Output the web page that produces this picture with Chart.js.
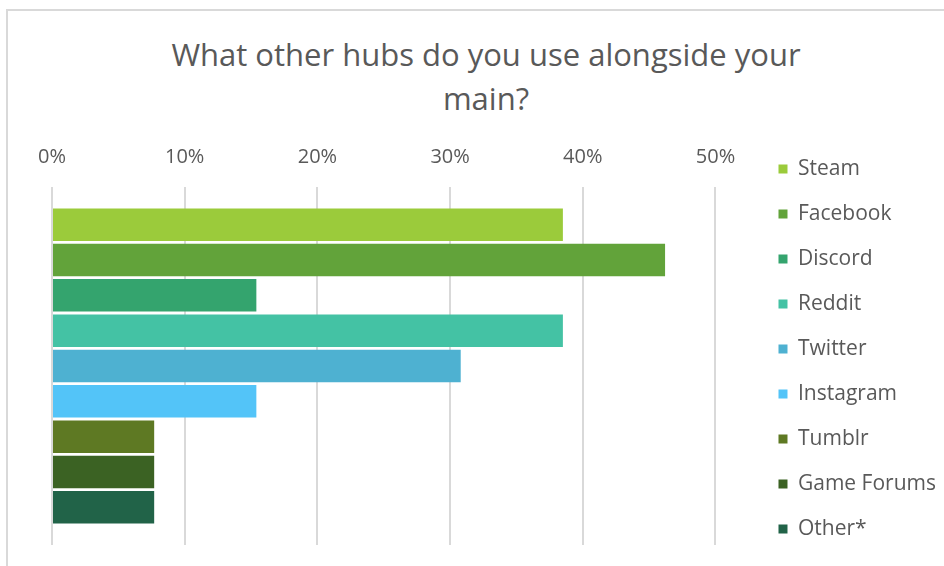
<!DOCTYPE html>
<html>
<head>
<meta charset="utf-8">
<script src="https://cdn.jsdelivr.net/npm/chart.js@4/dist/chart.umd.min.js"></script>
<style>
  html, body { margin: 0; padding: 0; background: #fff; overflow: hidden; }
  #wrap { position: relative; width: 944px; height: 566px; }
  #frame { position: absolute; left: 6px; top: 9px; width: 960px; height: 600px;
           border-left: 2px solid #d9d9d9; border-top: 2px solid #d9d9d9; }
  #title { position: absolute; left: 136px; top: 32px; width: 700px; text-align: center;
           font-family: 'Open Sans', sans-serif; font-size: 31px; line-height: 44px; color: #595959; }
  #myChart { position: absolute; left: 0; top: 132px; }
</style>
</head>
<body>
<div id="wrap">
  <div id="frame"></div>
  <div id="title">What other hubs do you use alongside your<br>main?</div>
  <canvas id="myChart" width="944" height="434"></canvas>
</div>
<script>
// hubs and the share of answers (%)
const hubs = ['Steam', 'Facebook', 'Discord', 'Reddit', 'Twitter', 'Instagram', 'Tumblr', 'Game Forums', 'Other*'];
const shares = [38.5, 46.2, 15.4, 38.5, 30.8, 15.4, 7.7, 7.7, 7.7];
const cores = ['#9bcb3b', '#62a33a', '#34a46e', '#44c2a4', '#4eb1d1', '#53c4f8', '#5e7923', '#3b6223', '#216348'];
const ticksX = [0, 10, 20, 30, 40, 50];

Chart.defaults.font.family = "'Open Sans', sans-serif";
Chart.defaults.color = '#595959';

const datasets = hubs.map((h, i) => ({
  label: h,
  data: [shares[i]],
  backgroundColor: cores[i],
  borderWidth: 0,
  categoryPercentage: 0.888,
  barPercentage: 0.92
}));

const ctx = document.getElementById('myChart').getContext('2d');

const myChart = new Chart(ctx, {
  type: 'bar',
  data: {
    labels: [''],
    datasets: datasets
  },
  options: {
    indexAxis: 'y',
    responsive: false,
    animation: false,
    devicePixelRatio: 1,
    layout: { padding: { left: 52, right: -2, top: 0, bottom: 0 } },
    plugins: {
      title: { display: false },
      tooltip: { enabled: false },
      legend: {
        position: 'right',
        labels: {
          boxWidth: 9,
          boxHeight: 9,
          padding: 24,
          font: { size: 21 },
          color: '#595959'
        }
      }
    },
    scales: {
      x: {
        position: 'top',
        min: ticksX[0],
        max: ticksX[ticksX.length - 1],
        afterBuildTicks: (s) => { s.ticks = ticksX.map(v => ({ value: v })); },
        ticks: {
          padding: 18,
          font: { size: 20 },
          color: '#595959',
          callback: (v) => v + '%'
        },
        grid: { color: '#d9d9d9', lineWidth: 2, drawTicks: false },
        border: { display: false },
        afterFit: (s) => { s.height = 55; }
      },
      y: {
        position: 'right',
        ticks: { display: false },
        grid: { display: false },
        border: { display: false },
        afterFit: (s) => { s.width = 39; }
      },
      pad: {
        type: 'linear',
        axis: 'x',
        position: 'bottom',
        ticks: { display: false },
        grid: { display: false },
        border: { display: false },
        afterFit: (s) => { s.height = 21; }
      }
    }
  }
});
</script>
</body>
</html>
